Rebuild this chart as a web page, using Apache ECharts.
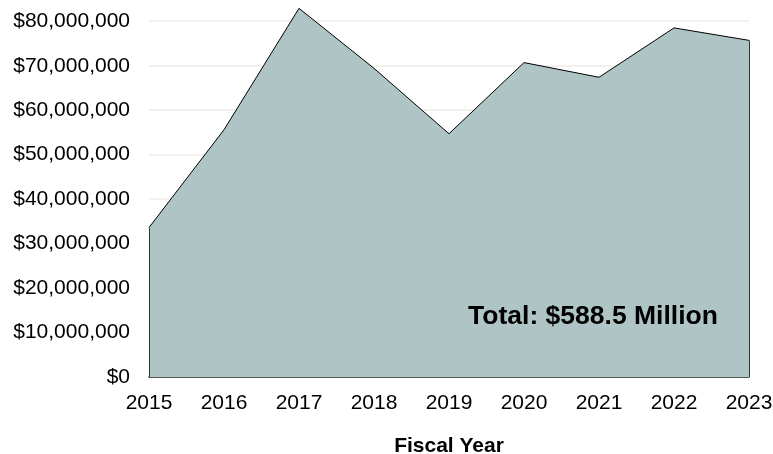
<!DOCTYPE html>
<html>
<head>
<meta charset="utf-8">
<script src="https://cdn.jsdelivr.net/npm/echarts@6/dist/echarts.min.js"></script>
<style>html,body{margin:0;padding:0;background:#fff}#c{width:773px;height:454px}</style>
</head>
<body>
<div id="c"></div>
<script>
const years = ['2015','2016','2017','2018','2019','2020','2021','2022','2023'];
const funding = [33.6e6, 55.6e6, 82.9e6, 69.4e6, 54.7e6, 70.7e6, 67.4e6, 78.5e6, 75.7e6];
const totalLabel = 'Total: $588.5 Million';
const xAxisTitle = 'Fiscal Year';

const chart = echarts.init(document.getElementById('c'), null, {renderer: 'canvas'});
const font = '"Liberation Sans", Arial, sans-serif';
const last = years.length - 1;

chart.setOption({
  animation: false,
  grid: {left: 149, right: 24, top: -1, bottom: 77, containLabel: false, outerBoundsMode: 'none'},
  xAxis: {
    type: 'category',
    data: years,
    boundaryGap: false,
    axisTick: {show: false},
    axisLine: {lineStyle: {color: '#222', width: 1.5}},
    axisLabel: {color: '#000', fontSize: 21, fontFamily: font, margin: 16},
    name: xAxisTitle,
    nameLocation: 'middle',
    nameGap: 59,
    nameTextStyle: {color: '#000', fontSize: 21, fontWeight: 'bold', fontFamily: font}
  },
  yAxis: {
    type: 'value',
    min: 0,
    max: 85e6,
    interval: 10e6,
    axisLine: {show: false},
    axisTick: {show: false},
    splitLine: {lineStyle: {color: '#EEECE6', width: 1.5}},
    axisLabel: {
      color: '#000', fontSize: 21, fontFamily: font, margin: 19,
      formatter: v => v > 80e6 ? '' : '$' + v.toLocaleString('en-US')
    }
  },
  series: [{
    type: 'line',
    data: funding,
    symbol: 'none',
    lineStyle: {color: '#000', width: 1},
    areaStyle: {color: '#AFC4C5', opacity: 1},
    markLine: {
      silent: true,
      symbol: 'none',
      label: {show: false},
      lineStyle: {color: '#333', width: 1, type: 'solid'},
      data: [
        [{coord: [years[0], 0]}, {coord: [years[0], funding[0]]}],
        [{coord: [years[last], 0]}, {coord: [years[last], funding[last]]}]
      ]
    }
  }],
  graphic: [{
    type: 'text',
    z: 100,
    x: 593, y: 317,
    style: {
      text: totalLabel,
      fill: '#000',
      fontSize: 26.5,
      fontWeight: 'bold',
      fontFamily: font,
      align: 'center',
      verticalAlign: 'middle'
    }
  }]
});
</script>
</body>
</html>
